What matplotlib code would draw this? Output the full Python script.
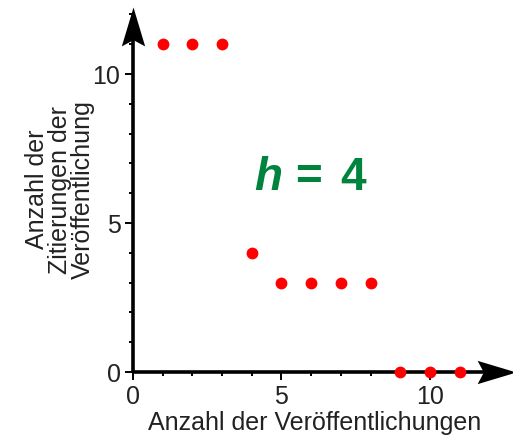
import numpy as np
import matplotlib
matplotlib.use("Agg")
import matplotlib.pyplot as plt
from matplotlib.ticker import MultipleLocator
from matplotlib.path import Path
from matplotlib.markers import MarkerStyle

plt.rcParams['font.family'] = ['Liberation Sans', 'DejaVu Sans']

# Veröffentlichungen, nach Zitierungen sortiert
papers = [1, 2, 3, 4, 5, 6, 7, 8, 9, 10, 11]
citations = [11, 11, 11, 4, 3, 3, 3, 3, 0, 0, 0]
h_index = 4

xmax, ymax = 12.8, 12.25

fig = plt.figure(figsize=(5.13, 4.38), dpi=100)
ax = fig.add_axes([133/513, 66/438, 380/513, 365/438])
ax.set_xlim(0, xmax)
ax.set_ylim(0, ymax)
for s in ax.spines.values():
    s.set_visible(False)

# Achsen mit Pfeilspitzen (stealth-artig)
head = Path([(0, 0), (-1, 0.3), (-0.84, 0), (-1, -0.3), (0, 0)],
            [Path.MOVETO, Path.LINETO, Path.LINETO, Path.LINETO, Path.CLOSEPOLY])
ax.plot([-0.05, xmax - 0.5], [0, 0], color='black', lw=2.6, clip_on=False,
        solid_capstyle='butt')
ax.plot([0, 0], [-0.05, ymax - 0.5], color='black', lw=2.6, clip_on=False,
        solid_capstyle='butt')
ax.plot([xmax + 0.1], [0], marker=MarkerStyle(head), markersize=56, color='black',
        clip_on=False, markeredgewidth=0)
ax.plot([0], [ymax], marker=MarkerStyle(head).rotated(deg=90), markersize=56,
        color='black', clip_on=False, markeredgewidth=0)

ax.plot(papers, citations, 'o', color='#ff0000', markersize=8.5,
        markeredgewidth=0, clip_on=False, zorder=5)

ax.set_xticks([0, 5, 10])
ax.set_yticks([0, 5, 10])
ax.xaxis.set_minor_locator(MultipleLocator(1))
ax.yaxis.set_minor_locator(MultipleLocator(1))
ax.tick_params(which='major', length=6, width=1.4, labelsize=18, pad=3,
               colors='black', labelcolor='#222222')
ax.tick_params(which='minor', length=3, width=1.4)

ax.set_xlabel("Anzahl der Veröffentlichungen", fontsize=18, color='#222222')
ax.xaxis.set_label_coords(0.479, -0.108)
ax.set_ylabel("Anzahl der\nZitierungen der\nVeröffentlichung", fontsize=18,
              linespacing=0.95, color='#222222')
ax.yaxis.set_label_coords(-0.1, 0.5)

green = '#00843d'
ax.text(4.07, 6.5, "h", fontsize=33, fontweight='bold', style='italic',
        color=green, ha='left', va='center')
ax.text(5.45, 6.5, "=", fontsize=33, fontweight='bold',
        color=green, ha='left', va='center')
ax.text(7.86, 6.5, str(h_index), fontsize=33, fontweight='bold',
        color=green, ha='right', va='center')

fig.savefig("out.png", dpi=100)
